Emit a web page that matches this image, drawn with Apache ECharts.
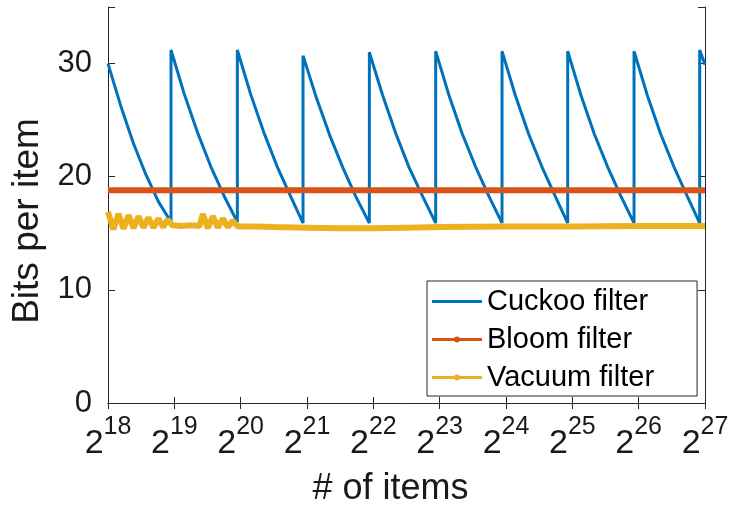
<!DOCTYPE html>
<html>
<head>
<meta charset="utf-8">
<script src="https://cdn.jsdelivr.net/npm/echarts@6/dist/echarts.min.js"></script>
<style>html,body{margin:0;padding:0;background:#fff}#c{width:729px;height:505px}</style>
</head>
<body>
<div id="c"></div>
<script>
// x values are log2(# of items)
const xTicks = [18, 19, 20, 21, 22, 23, 24, 25, 26, 27];
const yTicks = [0, 10, 20, 30];

const cuckooX = [18.00, 18.19, 18.38, 18.57, 18.76, 18.95,
  18.95, 19.15, 19.35, 19.55, 19.75, 19.95,
  19.95, 20.15, 20.35, 20.55, 20.75, 20.94,
  20.94, 21.14, 21.34, 21.54, 21.74, 21.94,
  21.94, 22.14, 22.34, 22.54, 22.74, 22.94,
  22.94, 23.14, 23.34, 23.54, 23.74, 23.94,
  23.94, 24.14, 24.34, 24.54, 24.74, 24.93,
  24.93, 25.13, 25.33, 25.53, 25.73, 25.93,
  25.93, 26.13, 26.33, 26.53, 26.73, 26.92,
  26.92, 27.00];
const cuckooY = [30.0, 26.3, 23.0, 20.2, 17.8, 16.0,
  31.2, 27.3, 23.9, 20.9, 18.3, 16.0,
  31.2, 27.3, 23.9, 20.9, 18.3, 15.9,
  30.7, 27.0, 23.7, 20.8, 18.2, 15.9,
  31.0, 27.2, 23.8, 20.8, 18.3, 15.9,
  31.1, 27.2, 23.8, 20.9, 18.3, 15.9,
  31.1, 27.2, 23.8, 20.9, 18.3, 15.9,
  31.1, 27.2, 23.8, 20.9, 18.3, 15.9,
  31.1, 27.2, 23.8, 20.9, 18.3, 15.9,
  31.2, 29.9];

const bloomX = [18.00, 27.00];
const bloomY = [18.8, 18.8];

const vacuumX = [18.00, 18.08, 18.16, 18.235, 18.31, 18.385, 18.46, 18.535, 18.61, 18.685, 18.76, 18.83, 18.90,
  18.97, 19.10, 19.25, 19.38,
  19.43, 19.505, 19.58, 19.655, 19.73, 19.805, 19.88, 19.96,
  20.20, 20.50, 21.00, 21.50, 22.00, 22.50, 23.00, 24.00, 25.00, 26.00, 27.00];
const vacuumY = [16.9, 15.35, 16.7, 15.4, 16.6, 15.45, 16.5, 15.5, 16.4, 15.5, 16.3, 15.55, 16.2,
  15.7, 15.65, 15.7, 15.65,
  16.7, 15.45, 16.5, 15.5, 16.3, 15.55, 16.1, 15.6,
  15.6, 15.55, 15.5, 15.45, 15.45, 15.5, 15.55, 15.6, 15.6, 15.65, 15.65];

const seriesNames = ['Cuckoo filter', 'Bloom filter', 'Vacuum filter'];
const colors = ['#0072BD', '#D95319', '#EDB120'];

const zip = (xs, ys) => xs.map((x, i) => [x, ys[i]]);
const FONT = 'Liberation Sans';
const TXT = '#1a1a1a';
const AX = '#262626';

const lineIcon = 'path://M0,0h0.01v0.01h-0.01z M0,2.5h50v3h-50z M50,7.99h0.01v0.01h-0.01z';
const dotIcon = 'path://M0,0h0.01v0.01h-0.01z M0,2.5h50v3h-50z M28,4a3,3 0 1,1 -6,0a3,3 0 1,1 6,0z M50,7.99h0.01v0.01h-0.01z';

const chart = echarts.init(document.getElementById('c'), null, {renderer: 'canvas'});
const baseX = {
  type: 'value', min: 18, max: 27, interval: 1,
  axisLine: {show: true, lineStyle: {color: AX, width: 1}},
  splitLine: {show: false},
  axisTick: {show: true, inside: true, length: 6, lineStyle: {color: AX}}
};
const baseY = {
  type: 'value', min: 0, max: 35, interval: 10,
  axisLine: {show: true, lineStyle: {color: AX, width: 1}},
  splitLine: {show: false},
  axisTick: {show: true, inside: true, length: 7, lineStyle: {color: AX}}
};
chart.setOption({
  animation: false,
  textStyle: {fontFamily: FONT},
  color: colors,
  grid: {left: 108, right: 24, top: 7, bottom: 102, containLabel: false, outerBoundsMode: 'none'},
  xAxis: [
    Object.assign({}, baseX, {
      position: 'bottom',
      name: '# of items', nameLocation: 'middle', nameGap: 68,
      nameTextStyle: {fontSize: 36, color: TXT, fontFamily: FONT, padding: [0, 32, 0, 0]},
      axisLabel: {
        margin: 12,
        formatter: v => xTicks.indexOf(v) >= 0 ? '{b|2}{s|' + v + '}' : '',
        rich: {
          b: {fontSize: 34, lineHeight: 46, verticalAlign: 'bottom', color: TXT, fontFamily: FONT},
          s: {fontSize: 25, lineHeight: 25, verticalAlign: 'top', color: TXT, fontFamily: FONT}
        }
      }
    }),
    Object.assign({}, baseX, {position: 'top', axisLabel: {show: false}})
  ],
  yAxis: [
    Object.assign({}, baseY, {
      position: 'left',
      name: 'Bits per item', nameLocation: 'middle', nameGap: 62,
      nameTextStyle: {fontSize: 37, color: TXT, fontFamily: FONT, padding: [0, 32, 0, 0]},
      axisLabel: {
        margin: 16, fontSize: 31, color: TXT, fontFamily: FONT,
        formatter: v => yTicks.indexOf(v) >= 0 ? String(v) : ''
      }
    }),
    Object.assign({}, baseY, {position: 'right', axisLabel: {show: false}})
  ],
  legend: {
    orient: 'vertical', left: 427, top: 281,
    padding: [5, 43, 3, 5],
    itemWidth: 50, itemHeight: 8, itemGap: 7,
    backgroundColor: '#fff', borderColor: AX, borderWidth: 1,
    textStyle: {fontSize: 29, lineHeight: 31, color: '#000', fontFamily: FONT},
    itemStyle: {borderWidth: 0},
    data: [
      {name: seriesNames[0], icon: lineIcon},
      {name: seriesNames[1], icon: dotIcon},
      {name: seriesNames[2], icon: dotIcon}
    ]
  },
  series: [
    {name: seriesNames[2], type: 'line', data: zip(vacuumX, vacuumY), showSymbol: false, symbol: 'circle',
      lineStyle: {width: 6, color: colors[2]}, itemStyle: {color: colors[2]}, z: 2},
    {name: seriesNames[1], type: 'line', data: zip(bloomX, bloomY), showSymbol: false, symbol: 'circle',
      lineStyle: {width: 6, color: colors[1]}, itemStyle: {color: colors[1]}, z: 3},
    {name: seriesNames[0], type: 'line', data: zip(cuckooX, cuckooY), showSymbol: false, symbol: 'none',
      lineStyle: {width: 3, color: colors[0]}, itemStyle: {color: colors[0]}, z: 1}
  ]
});
</script>
</body>
</html>
